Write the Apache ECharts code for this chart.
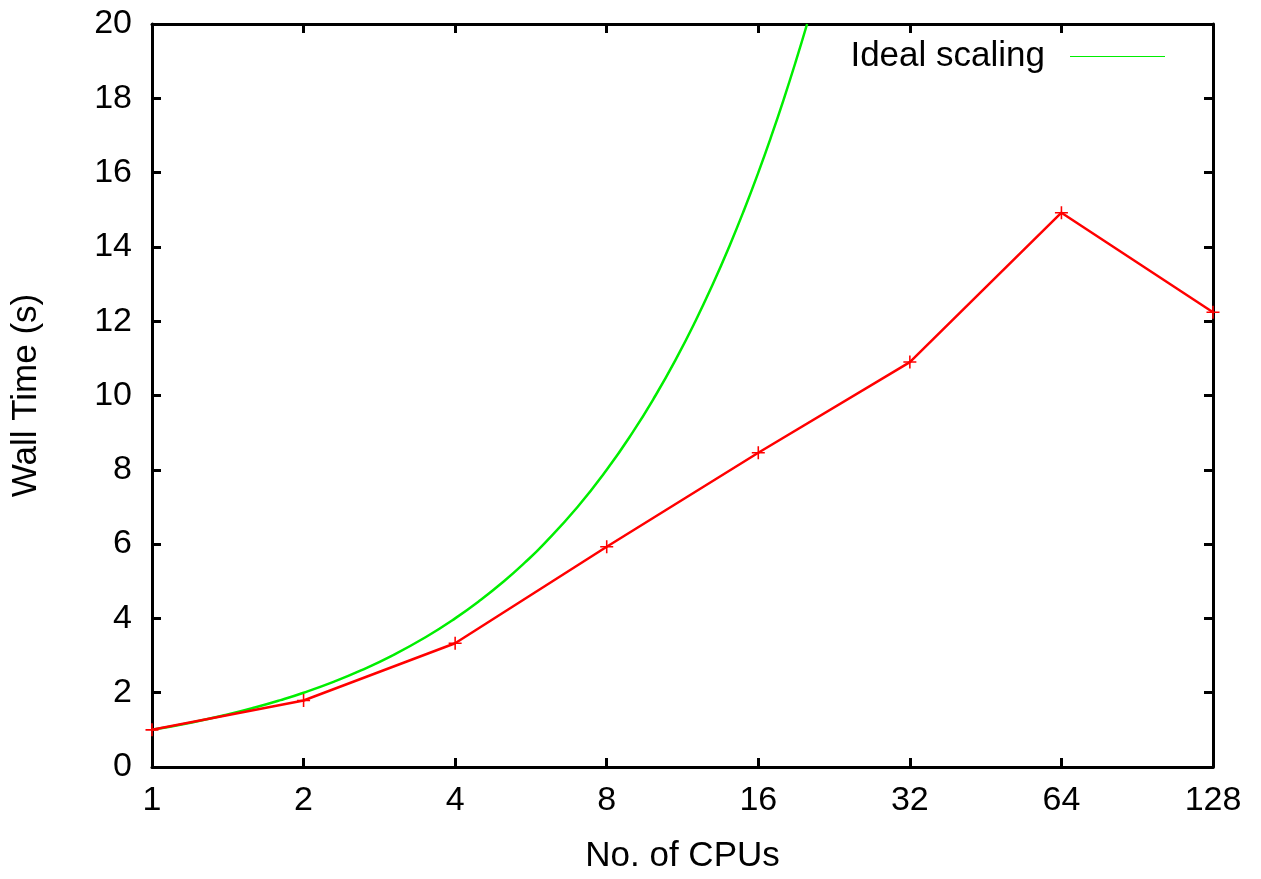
<!DOCTYPE html>
<html>
<head>
<meta charset="utf-8">
<script src="https://cdn.jsdelivr.net/npm/echarts@6/dist/echarts.min.js"></script>
<style>html,body{margin:0;padding:0;background:#fff;overflow:hidden}#c{width:1261px;height:879px}</style>
</head>
<body>
<div id="c"></div>
<script>
// Measured wall-time speedup (red) vs CPUs
var cpus = [1, 2, 4, 8, 16, 32, 64, 128];
var measured = [1.0, 1.79, 3.33, 5.93, 8.46, 10.9, 14.92, 12.24];
// Ideal scaling curve samples (speedup equals CPU count)
var idealX = [1, 1.2, 1.4, 1.6, 1.8, 2, 2.3, 2.6, 3, 3.5, 4, 4.5, 5, 5.5, 6, 7, 8, 9, 10, 11, 12, 13, 14, 15, 16, 17, 18, 19, 20];
var idealY = [1, 1.2, 1.4, 1.6, 1.8, 2, 2.3, 2.6, 3, 3.5, 4, 4.5, 5, 5.5, 6, 7, 8, 9, 10, 11, 12, 13, 14, 15, 16, 17, 18, 19, 20];
var xTicks = [1, 2, 4, 8, 16, 32, 64, 128];
var yTicks = [0, 2, 4, 6, 8, 10, 12, 14, 16, 18, 20];

var FONT = 'Liberation Sans, Arial, Helvetica, sans-serif';
var chart = echarts.init(document.getElementById('c'), null, {renderer: 'canvas', width: 1261, height: 879});
var frame = {show: true, onZero: false, lineStyle: {color: '#000', width: 3}};
var tick = {show: true, inside: true, length: 9, lineStyle: {color: '#000', width: 3}};
var plus = 'path://M0,4.4H10V5.6H0Z M4.4,0H5.6V10H4.4Z';

chart.setOption({
  animation: false,
  backgroundColor: '#fff',
  grid: {left: 152, right: 48, top: 24, bottom: 106, containLabel: false},
  legend: {
    show: true, right: 91, top: 34, itemWidth: 95, itemHeight: 12, itemGap: 0,
    icon: 'path://M0,5.5H100V6.5H0Z',
    align: 'right',
    data: [{name: 'Ideal scaling'}],
    textStyle: {fontFamily: FONT, fontSize: 35, color: '#000', padding: [0, 20, 0, 0]}
  },
  xAxis: [
    {type: 'log', logBase: 2, min: 1, max: 128, position: 'bottom',
     name: 'No. of CPUs', nameLocation: 'middle', nameGap: 72,
     nameTextStyle: {fontFamily: FONT, fontSize: 35, color: '#000'},
     axisLine: frame, axisTick: tick, splitLine: {show: false}, minorTick: {show: false},
     axisLabel: {fontFamily: FONT, fontSize: 34, color: '#000', margin: 17,
       formatter: function (v) { return xTicks.indexOf(Math.round(v)) >= 0 ? String(Math.round(v)) : ''; }}},
    {type: 'log', logBase: 2, min: 1, max: 128, position: 'top',
     axisLine: frame, axisTick: tick, splitLine: {show: false}, axisLabel: {show: false}}
  ],
  yAxis: [
    {type: 'value', min: yTicks[0], max: yTicks[yTicks.length - 1], interval: 2, position: 'left',
     name: 'Wall Time (s)', nameLocation: 'middle', nameGap: 108, nameRotate: 90,
     nameTextStyle: {fontFamily: FONT, fontSize: 35, color: '#000'},
     axisLine: frame, axisTick: tick, splitLine: {show: false},
     axisLabel: {fontFamily: FONT, fontSize: 34, color: '#000', margin: 20}},
    {type: 'value', min: yTicks[0], max: yTicks[yTicks.length - 1], interval: 2, position: 'right',
     axisLine: frame, axisTick: tick, splitLine: {show: false}, axisLabel: {show: false}}
  ],
  series: [
    {name: 'Ideal scaling', type: 'line', xAxisIndex: 0, yAxisIndex: 0,
     data: idealX.map(function (x, i) { return [x, idealY[i]]; }),
     showSymbol: false, smooth: true, clip: true,
     lineStyle: {color: '#00ee00', width: 2.5}, itemStyle: {color: '#00ee00'}, z: 3},
    {name: 'measured', type: 'line', xAxisIndex: 0, yAxisIndex: 0,
     data: cpus.map(function (x, i) { return [x, measured[i]]; }),
     symbol: plus, symbolSize: 13, showSymbol: true,
     lineStyle: {color: '#ff0000', width: 2.5}, itemStyle: {color: '#ff0000'}, z: 4}
  ]
});
</script>
</body>
</html>
